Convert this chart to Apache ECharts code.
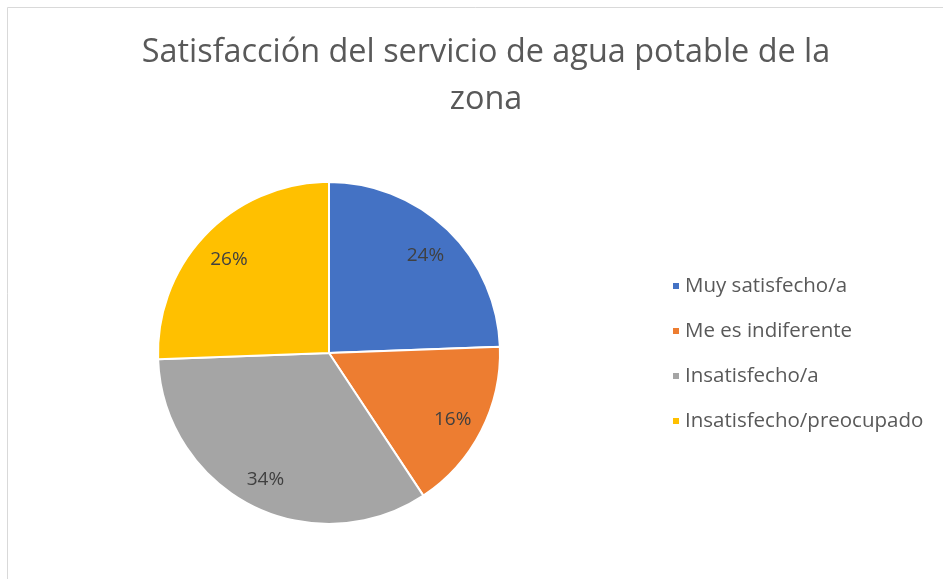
<!DOCTYPE html>
<html><head><meta charset="utf-8">
<script src="https://cdn.jsdelivr.net/npm/echarts@6/dist/echarts.min.js"></script>
<style>html,body{margin:0;padding:0;background:#fff}#c{width:943px;height:579px}</style>
</head><body><div id="c"></div>
<script>
var categories = ['Muy satisfecho/a', 'Me es indiferente', 'Insatisfecho/a', 'Insatisfecho/preocupado'];
var values = [21, 14, 29, 22];
var colors = ['#4472C4', '#ED7D31', '#A5A5A5', '#FFC000'];
var titleText = 'Satisfacción del servicio de agua potable de la\nzona';
var FONT = '"Open Sans", "Noto Sans", sans-serif';

var chart = echarts.init(document.getElementById('c'));
var mainData = categories.map(function (n, i) { return { name: n, value: values[i], itemStyle: { color: colors[i] } }; });
var labelData = categories.map(function (n, i) { return { name: n, value: values[i] }; });
chart.setOption({
  animation: false,
  backgroundColor: '#fff',
  title: {
    text: titleText, left: 481, top: 24, textAlign: 'center',
    textStyle: { fontFamily: FONT, fontSize: 32.4, fontWeight: 'normal', color: '#595959', lineHeight: 47 }
  },
  legend: {
    data: categories.map(function (n, i) { return { name: n, itemStyle: { color: colors[i] } }; }),
    orient: 'vertical', left: 666, top: 269, itemWidth: 8, itemHeight: 8, itemGap: 21,
    icon: 'rect',
    textStyle: { fontFamily: FONT, fontSize: 20.5, color: '#595959', lineHeight: 24 }
  },
  graphic: [
    { type: 'line', shape: { x1: 7.5, y1: 7.5, x2: 943, y2: 7.5 }, style: { stroke: '#d9d9d9', lineWidth: 1 } },
    { type: 'line', shape: { x1: 7.5, y1: 7.5, x2: 7.5, y2: 579 }, style: { stroke: '#d9d9d9', lineWidth: 1 } }
  ],
  series: [
    {
      type: 'pie', center: [329, 353], radius: [0, 171], startAngle: 90, clockwise: true,
      percentPrecision: 0,
      data: mainData, label: { show: false }, labelLine: { show: false },
      itemStyle: { borderColor: '#fff', borderWidth: 2 },
      emphasis: { disabled: true }
    },
    {
      type: 'pie', center: [329, 353], radius: [101, 171], startAngle: 90, clockwise: true,
      percentPrecision: 0,
      data: labelData, silent: true, legendHoverLink: false,
      itemStyle: { color: 'rgba(0,0,0,0)' },
      label: { show: true, position: 'inside', formatter: '{d}%', fontFamily: FONT, fontSize: 19, color: '#404040', offset: [0, 3] },
      labelLine: { show: false }, emphasis: { disabled: true }
    }
  ]
});
</script></body></html>
